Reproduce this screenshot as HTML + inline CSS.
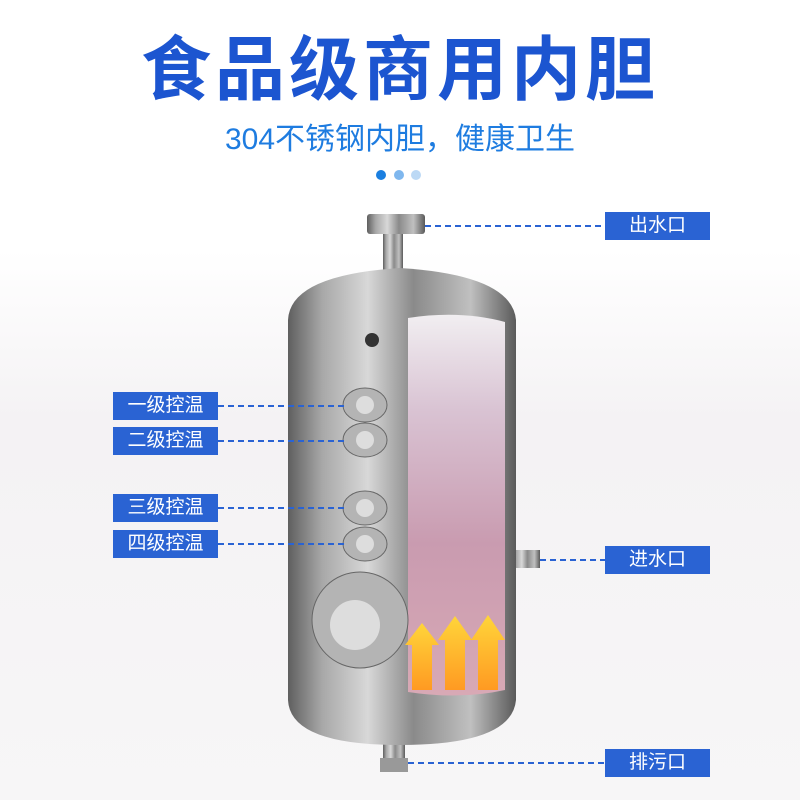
<!DOCTYPE html>
<html><head><meta charset="utf-8"><style>
html,body{margin:0;padding:0;background:#fff}
body{width:800px;height:800px;position:relative;overflow:hidden;font-family:"Liberation Sans","Noto Sans CJK SC",sans-serif}
.t{position:absolute;left:0;width:800px;text-align:center;color:#1a5fd6}
.lb{position:absolute;width:105px;height:28px;background:#2a63d3;color:#fff;font-size:19px;line-height:28px;text-align:center}
</style></head><body>
<div style="position:absolute;left:0;top:0;width:800px;height:800px;background:linear-gradient(#fff 0,#fff 250px,#f4f2f4 420px,#f7f6f7 800px)"></div>
<div class="t" style="top:14px;font-size:70px;font-weight:bold;letter-spacing:4px;color:#1c55d0">食品级商用内胆</div>
<div class="t" style="top:114px;font-size:30px;color:#1e7ce0">304不锈钢内胆，健康卫生</div>
<svg style="position:absolute;left:0;top:0" width="800" height="800">
<defs>
<linearGradient id="m" x1="0" x2="1"><stop offset="0" stop-color="#5f5f5f"/><stop offset=".15" stop-color="#a8a8a8"/><stop offset=".35" stop-color="#d8d8d8"/><stop offset=".55" stop-color="#8a8a8a"/><stop offset=".8" stop-color="#c0c0c0"/><stop offset="1" stop-color="#5a5a5a"/></linearGradient>
<linearGradient id="w" x1="0" y1="0" x2="0" y2="1"><stop offset="0" stop-color="#f1eef1"/><stop offset=".25" stop-color="#d9c3d3"/><stop offset=".6" stop-color="#c99bb0"/><stop offset="1" stop-color="#d8a9b5"/></linearGradient>
<linearGradient id="ar" x1="0" y1="1" x2="0" y2="0"><stop offset="0" stop-color="#ff9a22"/><stop offset="1" stop-color="#ffd53a"/></linearGradient>
</defs>
<circle cx="381" cy="175" r="5" fill="#1b7fe0"/><circle cx="399" cy="175" r="5" fill="#7fb7ee"/><circle cx="416" cy="175" r="5" fill="#bcd9f5"/>
<rect x="383" y="228" width="20" height="50" fill="url(#m)"/>
<rect x="367" y="214" width="58" height="20" rx="3" fill="url(#m)"/>
<rect x="383" y="730" width="22" height="40" fill="url(#m)"/>
<rect x="380" y="758" width="28" height="14" fill="#999"/>
<rect x="512" y="550" width="28" height="18" fill="url(#m)"/>
<path d="M288 320 Q290 275 400 268 Q512 275 516 320 L516 700 Q512 745 400 745 Q290 745 288 700 Z" fill="url(#m)"/>
<path d="M408 318 Q460 310 505 322 L505 690 Q460 700 408 692 Z" fill="url(#w)"/>
<g fill="url(#ar)"><path d="M412 690 v-45 h-7 l17-22 17 22 h-7 v45z"/><path d="M445 690 v-50 h-7 l17-24 17 24 h-7 v50z"/><path d="M478 690 v-50 h-7 l17-25 17 25 h-7 v50z"/></g>
<g fill="#b4b4b4" stroke="#666"><ellipse cx="365" cy="405" rx="22" ry="17"/><ellipse cx="365" cy="440" rx="22" ry="17"/><ellipse cx="365" cy="508" rx="22" ry="17"/><ellipse cx="365" cy="544" rx="22" ry="17"/><circle cx="360" cy="620" r="48"/></g>
<g fill="#ddd"><circle cx="365" cy="405" r="9"/><circle cx="365" cy="440" r="9"/><circle cx="365" cy="508" r="9"/><circle cx="365" cy="544" r="9"/><circle cx="355" cy="625" r="25"/></g>
<circle cx="372" cy="340" r="7" fill="#333"/>
<g stroke="#2a63d3" stroke-width="2" stroke-dasharray="6,4"><line x1="218" y1="406" x2="345" y2="406"/><line x1="218" y1="441" x2="345" y2="441"/><line x1="218" y1="508" x2="345" y2="508"/><line x1="218" y1="544" x2="345" y2="544"/><line x1="425" y1="226" x2="605" y2="226"/><line x1="540" y1="560" x2="605" y2="560"/><line x1="408" y1="763" x2="605" y2="763"/></g>
</svg>
<div class="lb" style="left:113px;top:392px">一级控温</div>
<div class="lb" style="left:113px;top:427px">二级控温</div>
<div class="lb" style="left:113px;top:494px">三级控温</div>
<div class="lb" style="left:113px;top:530px">四级控温</div>
<div class="lb" style="left:605px;top:212px">出水口</div>
<div class="lb" style="left:605px;top:546px">进水口</div>
<div class="lb" style="left:605px;top:749px">排污口</div>
</body></html>
